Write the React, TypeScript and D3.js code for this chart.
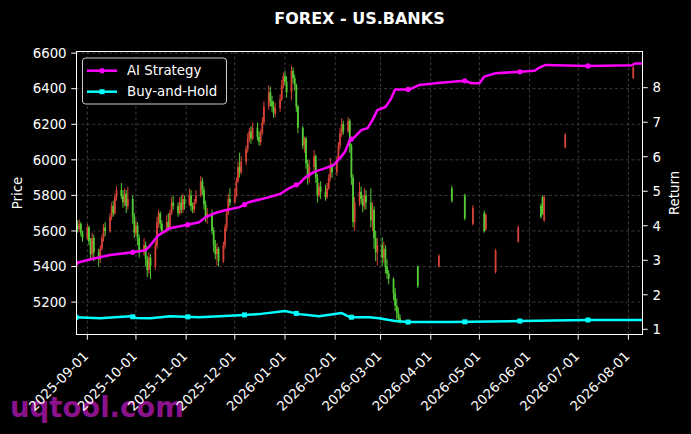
import React from "react";
import * as d3 from "d3";

const W = 691;
const H = 434;
const PL = 76, PR = 643, PT = 51, PB = 335;

const titleText = "FOREX - US.BANKS";
const xStart = "2025-08-25";
const xEnd = "2026-08-10";
const priceDomain = [5015, 6612];
const returnDomain = [0.835, 9.063];
const priceTicks = [5200, 5400, 5600, 5800, 6000, 6200, 6400, 6600];
const returnTicks = [1, 2, 3, 4, 5, 6, 7, 8];
const denseFrom = "2025-08-25";
const denseTo = "2026-03-14";

// [open, close, high, low] for each weekday from 2025-08-25 to 2026-03-13
const denseOHLC: number[][] = [
  [5600,5630,5650,5580],[5630,5610,5660,5590],[5610,5640,5665,5595],[5640,5590,5650,5570],[5590,5560,5600,5540],
  [5560,5620,5640,5550],[5620,5540,5630,5520],[5540,5470,5560,5440],[5470,5560,5590,5450],[5560,5480,5580,5430],
  [5480,5440,5500,5400],[5440,5500,5520,5420],[5500,5560,5580,5490],[5560,5620,5640,5540],[5620,5600,5650,5570],
  [5600,5680,5700,5590],[5680,5740,5760,5660],[5740,5700,5770,5680],[5700,5790,5810,5690],[5790,5830,5850,5770],
  [5830,5800,5870,5780],[5800,5760,5830,5730],[5760,5810,5840,5740],[5810,5740,5830,5700],[5740,5780,5850,5720],
  [5780,5680,5800,5640],[5680,5590,5700,5560],[5590,5630,5660,5570],[5630,5560,5650,5520],[5560,5480,5580,5450],
  [5480,5520,5560,5460],[5520,5440,5540,5400],[5440,5380,5460,5340],[5380,5450,5480,5360],[5450,5400,5470,5330],
  [5400,5520,5540,5380],[5520,5650,5680,5500],[5650,5700,5720,5620],[5700,5640,5710,5610],[5640,5600,5660,5580],
  [5600,5650,5690,5590],[5650,5620,5700,5600],[5620,5700,5720,5610],[5700,5760,5790,5690],[5760,5740,5800,5720],
  [5740,5700,5760,5680],[5700,5760,5790,5690],[5760,5720,5800,5700],[5720,5780,5810,5700],[5780,5750,5800,5720],
  [5750,5800,5840,5740],[5800,5740,5830,5710],[5740,5720,5760,5700],[5720,5760,5780,5700],[5760,5800,5830,5750],
  [5800,5880,5910,5790],[5880,5830,5900,5800],[5830,5750,5850,5720],[5750,5680,5770,5650],[5680,5700,5730,5640],
  [5700,5600,5720,5580],[5600,5520,5620,5480],[5520,5470,5550,5440],[5470,5500,5530,5405],[5500,5430,5510,5400],
  [5430,5520,5540,5420],[5520,5620,5640,5500],[5620,5700,5720,5600],[5700,5780,5810,5690],[5780,5760,5840,5740],
  [5760,5800,5840,5750],[5800,5880,5900,5790],[5880,5960,5990,5870],[5960,5930,6040,5900],[5930,5990,6020,5920],
  [5990,6060,6080,5970],[6060,6120,6150,6040],[6120,6160,6180,6100],[6160,6120,6190,6090],[6120,6180,6210,6110],
  [6180,6130,6210,6110],[6130,6100,6160,6080],[6100,6150,6170,6080],[6150,6210,6240,6140],[6210,6300,6330,6200],
  [6300,6380,6420,6280],[6380,6330,6410,6300],[6330,6300,6360,6270],[6300,6260,6330,6235],[6260,6290,6320,6240],
  [6290,6340,6370,6270],[6340,6420,6450,6330],[6420,6470,6490,6400],[6470,6440,6500,6420],[6440,6380,6470,6350],
  [6380,6500,6530,6335],[6500,6460,6520,6430],[6460,6420,6480,6390],[6420,6300,6430,6270],[6300,6180,6310,6150],
  [6180,6080,6190,6060],[6080,6120,6130,6040],[6120,5980,6130,5950],[5980,5900,6000,5860],[5900,5960,6000,5870],
  [5960,6020,6055,5940],[6020,5900,6030,5870],[5900,5800,5920,5760],[5800,5850,5870,5790],[5850,5820,5880,5780],
  [5820,5790,5860,5770],[5790,5840,5870,5780],[5840,5900,5920,5830],[5900,5960,6010,5880],[5960,5930,5980,5900],
  [5930,6000,6020,5910],[6000,6080,6100,5990],[6080,6150,6180,6060],[6150,6200,6235,6130],[6200,6160,6220,6140],
  [6160,6220,6240,6150],[6220,6080,6230,6040],[6080,5900,6090,5860],[5900,5650,5920,5620],[5650,5760,5790,5600],
  [5760,5820,5875,5740],[5820,5780,5850,5750],[5780,5740,5800,5705],[5740,5800,5840,5720],[5800,5760,5830,5720],
  [5760,5660,5840,5620],[5660,5720,5760,5600],[5720,5560,5740,5500],[5560,5480,5600,5430],[5480,5520,5560,5405],
  [5520,5450,5565,5400],[5450,5500,5540,5420],[5500,5400,5520,5360],[5400,5360,5440,5330],[5360,5330,5380,5300],
  [5330,5250,5340,5210],[5250,5180,5280,5150],[5180,5140,5220,5100],[5140,5110,5170,5085],[5110,5095,5130,5080],
];

const sparseDates = ["2026-03-24","2026-04-06","2026-04-14","2026-04-22","2026-04-27","2026-05-04","2026-05-05","2026-05-11","2026-05-25","2026-06-08","2026-06-09","2026-06-10","2026-06-23","2026-08-04"];
const sparseOHLC: number[][] = [
  [5400,5290,5405,5280],[5400,5460,5470,5395],[5840,5770,5855,5760],[5800,5670,5810,5660],
  [5640,5730,5745,5630],[5700,5600,5715,5590],[5610,5690,5700,5600],[5370,5490,5500,5360],
  [5540,5620,5630,5535],[5740,5680,5755,5670],[5790,5700,5800,5690],[5660,5790,5800,5650],
  [6070,6140,6150,6065],[6460,6520,6530,6455],
];

const strategyDates = ["2025-08-25","2025-09-05","2025-09-15","2025-09-29","2025-10-07","2025-10-10","2025-10-15","2025-10-22","2025-11-01","2025-11-09","2025-11-13","2025-11-19","2025-11-25","2025-12-04","2025-12-10","2025-12-20","2025-12-29","2026-01-04","2026-01-10","2026-01-13","2026-01-19","2026-01-26","2026-01-31","2026-02-04","2026-02-07","2026-02-10","2026-02-13","2026-02-17","2026-02-21","2026-02-24","2026-02-27","2026-03-04","2026-03-07","2026-03-10","2026-03-19","2026-03-25","2026-04-07","2026-04-22","2026-04-26","2026-05-01","2026-05-04","2026-05-11","2026-05-26","2026-06-04","2026-06-07","2026-06-11","2026-07-07","2026-08-03","2026-08-05","2026-08-10"];
const strategyValues = [2.92,3.05,3.15,3.23,3.29,3.44,3.73,3.93,4.02,4.10,4.25,4.37,4.45,4.54,4.69,4.80,4.92,5.10,5.23,5.38,5.56,5.67,5.76,5.96,6.14,6.48,6.57,6.77,6.83,7.06,7.35,7.44,7.64,7.95,7.95,8.08,8.14,8.20,8.13,8.13,8.32,8.42,8.46,8.49,8.58,8.66,8.63,8.65,8.70,8.70];

const holdDates = ["2025-08-25","2025-09-09","2025-09-18","2025-09-28","2025-10-01","2025-10-10","2025-10-22","2025-11-09","2025-12-04","2025-12-16","2026-01-01","2026-01-10","2026-01-22","2026-02-05","2026-02-10","2026-02-22","2026-02-28","2026-03-10","2026-03-18","2026-04-13","2026-05-26","2026-07-07","2026-08-10"];
const holdValues = [1.35,1.32,1.35,1.38,1.33,1.32,1.38,1.35,1.41,1.44,1.53,1.44,1.38,1.47,1.35,1.35,1.32,1.24,1.21,1.21,1.24,1.27,1.27];

const markerDates = ["2025-08-25","2025-09-29","2025-11-02","2025-12-07","2026-01-08","2026-02-11","2026-03-18","2026-04-22","2026-05-26","2026-07-07"];

const legendLabels = ["AI Strategy", "Buy-and-Hold"];
const watermark = "uqtool.com";

const FONT = "DejaVu Sans, Liberation Sans, sans-serif";
const UP = "#f24a3e";
const DOWN = "#5ee83a";
const MAGENTA = "#ff00ff";
const CYAN = "#00ffff";

const parse = (s: string) => {
  const [y, m, d] = s.split("-").map(Number);
  return new Date(y, m - 1, d);
};

function interp(dates: Date[], vals: number[], t: Date) {
  const i = d3.bisector((d: Date) => d).right(dates, t);
  if (i <= 0) return vals[0];
  if (i >= dates.length) return vals[vals.length - 1];
  const a = dates[i - 1].getTime(), b = dates[i].getTime();
  const f = (t.getTime() - a) / (b - a);
  return vals[i - 1] + f * (vals[i] - vals[i - 1]);
}

export default function App() {
  const x = d3.scaleTime().domain([parse(xStart), parse(xEnd)]).range([PL, PR]);
  const yP = d3.scaleLinear().domain(priceDomain).range([PB, PT]);
  const yR = d3.scaleLinear().domain(returnDomain).range([PB, PT]);

  const denseDays = d3.timeDay
    .range(parse(denseFrom), parse(denseTo))
    .filter((d) => d.getDay() !== 0 && d.getDay() !== 6);
  const candles = [
    ...denseOHLC.slice(0, denseDays.length).map((v, i) => ({ date: denseDays[i], o: v[0], c: v[1], h: v[2], l: v[3] })),
    ...sparseOHLC.map((v, i) => ({ date: parse(sparseDates[i]), o: v[0], c: v[1], h: v[2], l: v[3] })),
  ];

  const monthTicks = d3.timeMonth.range(parse("2025-09-01"), parse("2026-08-02"));
  const fmt = d3.timeFormat("%Y-%m-%d");

  const sDates = strategyDates.map(parse);
  const hDates = holdDates.map(parse);
  const line = d3
    .line<[Date, number]>()
    .x((d) => x(d[0]))
    .y((d) => yR(d[1]));
  const sPath = line(sDates.map((d, i) => [d, strategyValues[i]]) as [Date, number][]) || "";
  const hPath = line(hDates.map((d, i) => [d, holdValues[i]]) as [Date, number][]) || "";
  const mDates = markerDates.map(parse);

  const bodyW = 1.8;

  return (
    <div style={{ position: "fixed", left: 0, top: 0, width: W, height: H, background: "#000" }}>
      <svg width={W} height={H} style={{ display: "block" }} fontFamily={FONT}>
        <rect x={0} y={0} width={W} height={H} fill="#000" />
        <defs>
          <clipPath id="plotclip">
            <rect x={PL} y={PT} width={PR - PL} height={PB - PT} />
          </clipPath>
        </defs>
        <text x={(PL + PR) / 2} y={23.5} textAnchor="middle" fill="#fff" fontSize={16} fontWeight="bold">
          {titleText}
        </text>

        {/* grid */}
        <g stroke="#4a4a4a" strokeWidth={0.8} strokeDasharray="3,2.5">
          {monthTicks.map((t) => (
            <line key={"gx" + t.getTime()} x1={x(t)} x2={x(t)} y1={PT} y2={PB} />
          ))}
          {priceTicks.map((p) => (
            <line key={"gy" + p} x1={PL} x2={PR} y1={yP(p)} y2={yP(p)} />
          ))}
        </g>

        {/* candles */}
        <g clipPath="url(#plotclip)">
          {candles.map((c, i) => {
            const col = c.c >= c.o ? UP : DOWN;
            const cx = x(c.date);
            const top = yP(Math.max(c.o, c.c));
            const bot = yP(Math.min(c.o, c.c));
            return (
              <g key={"c" + i} opacity={0.88}>
                <line x1={cx} x2={cx} y1={yP(c.h)} y2={yP(c.l)} stroke={col} strokeWidth={1} />
                <rect x={cx - bodyW / 2} y={top} width={bodyW} height={Math.max(1, bot - top)} fill={col} />
              </g>
            );
          })}
        </g>

        {/* lines */}
        <g clipPath="url(#plotclip)">
          <path d={hPath} fill="none" stroke={CYAN} strokeWidth={2.5} strokeLinejoin="round" />
          {mDates.map((d, i) => (
            <rect key={"hm" + i} x={x(d) - 2.5} y={yR(interp(hDates, holdValues, d)) - 2.5} width={5} height={5} fill={CYAN} />
          ))}
          <path d={sPath} fill="none" stroke={MAGENTA} strokeWidth={2.5} strokeLinejoin="round" />
          {mDates.map((d, i) => (
            <circle key={"sm" + i} cx={x(d)} cy={yR(interp(sDates, strategyValues, d))} r={2.6} fill={MAGENTA} />
          ))}
        </g>

        {/* frame */}
        <rect x={PL + 0.5} y={PT + 0.5} width={PR - PL - 1} height={PB - PT - 1} fill="none" stroke="#fff" strokeWidth={1} />

        {/* watermark */}
        <text x={10} y={417} fill="#8a128a" fontSize={27.5} fontWeight="bold">
          {watermark}
        </text>

        {/* left axis */}
        <g fill="#fff" fontSize={13.33}>
          {priceTicks.map((p) => (
            <g key={"lt" + p}>
              <line x1={PL - 4.7} x2={PL} y1={yP(p)} y2={yP(p)} stroke="#fff" strokeWidth={1} />
              <text x={PL - 9.4} y={yP(p)} dy="0.36em" textAnchor="end">
                {p}
              </text>
            </g>
          ))}
          <text transform={`translate(22,${(PT + PB) / 2}) rotate(-90)`} textAnchor="middle">
            Price
          </text>
        </g>

        {/* right axis */}
        <g fill="#fff" fontSize={13.33}>
          {returnTicks.map((r) => (
            <g key={"rt" + r}>
              <line x1={PR} x2={PR + 4.7} y1={yR(r)} y2={yR(r)} stroke="#fff" strokeWidth={1} />
              <text x={PR + 9.4} y={yR(r)} dy="0.36em" textAnchor="start">
                {r}
              </text>
            </g>
          ))}
          <text transform={`translate(679,${(PT + PB) / 2}) rotate(-90)`} textAnchor="middle">
            Return
          </text>
        </g>

        {/* bottom axis */}
        <g fill="#fff" fontSize={13.33}>
          {monthTicks.map((t) => (
            <g key={"bt" + t.getTime()}>
              <line x1={x(t)} x2={x(t)} y1={PB} y2={PB + 4.7} stroke="#fff" strokeWidth={1} />
              <text transform={`translate(${x(t) + 2},357) rotate(-45)`} textAnchor="end">
                {fmt(t)}
              </text>
            </g>
          ))}
        </g>

        {/* legend */}
        <g fontSize={13.33}>
          <rect x={82.5} y={58} width={144} height={46} rx={3} fill="#000" fillOpacity={0.8} stroke="#cccccc" strokeWidth={1} />
          <line x1={87} x2={117} y1={70.7} y2={70.7} stroke={MAGENTA} strokeWidth={2.5} />
          <circle cx={102} cy={70.7} r={2.6} fill={MAGENTA} />
          <text x={127} y={70.7} dy="0.36em" fill="#fff">
            {legendLabels[0]}
          </text>
          <line x1={87} x2={117} y1={91.7} y2={91.7} stroke={CYAN} strokeWidth={2.5} />
          <rect x={99.5} y={89.2} width={5} height={5} fill={CYAN} />
          <text x={127} y={91.7} dy="0.36em" fill="#fff">
            {legendLabels[1]}
          </text>
        </g>
      </svg>
    </div>
  );
}
